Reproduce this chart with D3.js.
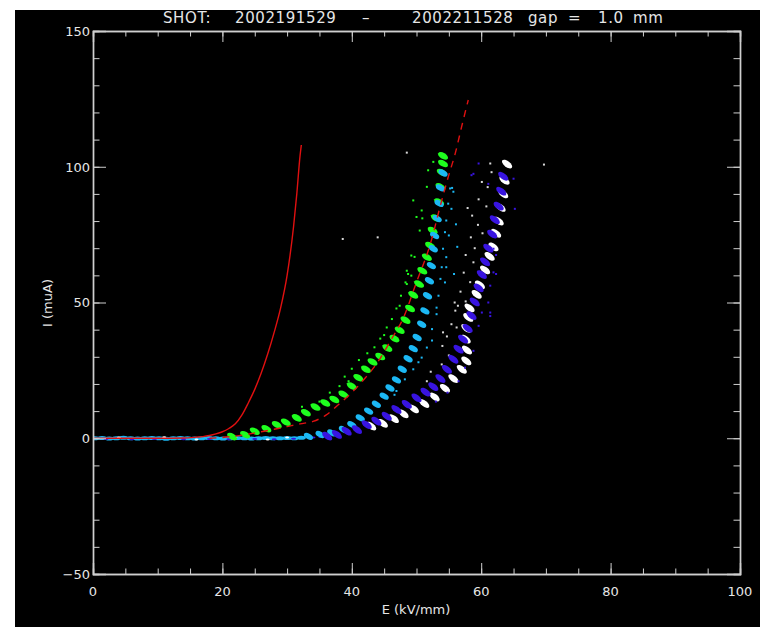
<!DOCTYPE html>
<html><head><meta charset="utf-8">
<script src="https://cdn.jsdelivr.net/npm/d3@7"></script>
<style>body{margin:0;background:#fff}svg{display:block}text{font-family:"DejaVu Sans",sans-serif;fill:#e6e6e6}</style>
</head><body><svg id="c" width="760" height="627"></svg>
<script>
// ---- data ----
const xTicks = [0, 20, 40, 60, 80, 100];
const yTicks = [-50, 0, 50, 100, 150];
const titleParts = ["SHOT:", "2002191529", "\u2013", "2002211528", "gap", "=", "1.0", "mm"];
const xLabel = "E (kV/mm)";
const yLabel = "I (muA)";

const redSolid = [[0,0],[10,0],[14,0.1],[16,0.4],[17,0.6],[18,1],[19,1.6],[20,2.4],[21,3.6],[22,5.3],[23,8.5],[24,13],[25,18],[26,24],[27,31],[28,39],[29,48],[30,60],[31,78],[31.5,90],[32,104],[32.2,108]];
const redDash = [[18,0],[20,0.3],[22,0.8],[24,1.5],[26,2.4],[28,3.3],[30,4.3],[32,5.3],[34,6.2],[36,8.5],[38,12.5],[40,16.8],[42,22],[44,28],[46,36],[48,44.5],[50,57.5],[52,70.5],[54,88.5],[55,97],[56,105],[57,115],[58,124.6]];

const greenBlobs = [[21.5,0.6],[23.5,1.3],[25,2.6],[26.8,3.5],[28.4,5],[29.8,5.9],[31.5,7.5],[32.9,9.4],[34.4,11.5],[35.9,13],[37.3,14.3],[38.7,16.2],[40,19.2],[41,22.3],[42.2,25.4],[43.2,28.1],[44.4,30.1],[45.5,33.2],[46.6,36.7],[47.4,39.8],[48.3,43.5],[49,47.8],[49.5,52.8],[50.4,56.8],[50.9,61.7],[51.6,66.7],[52.1,71],[52.5,76.5],[53,81.1],[53.5,87],[53.7,92.6],[53.9,97.9],[54.1,101.2],[54.1,104]];
const cyanBlobs = [[33.3,0.7],[35.1,1.4],[36.9,2],[38.7,3.2],[40,5],[41.3,7.5],[42.6,10],[43.8,12.5],[45,15.5],[45.9,18.5],[46.9,21.5],[47.8,25.4],[48.7,29.3],[49.5,33],[50.1,37.1],[50.8,42],[51.3,46.9],[51.7,52.5],[52,58],[52.3,63.6],[52.6,69.8],[52.8,74.7],[53.2,80.9],[53.5,86.5],[53.7,92.2],[54.1,97.7]];
const blueBlobs = [[36.2,0.8],[37.7,1.4],[39.2,2.6],[40.8,3.2],[42.3,5],[43.8,6.3],[45.4,8.1],[46.9,10.6],[48.5,12.5],[50,14.9],[51.4,17],[52.6,19],[53.7,22],[54.7,25.4],[55.7,29.1],[56.5,32.8],[57.2,36.5],[57.9,40.5],[58.5,45.2],[59,50.2],[59.6,55.4],[60.1,60.3],[60.6,65],[61.1,70],[61.7,75.2],[62.1,80.5],[62.7,85.5],[63.1,91],[63.4,96.5]];
const whiteBlobs = [[43,4.5],[44.8,5.5],[46.5,7.2],[48,9],[49.6,10.8],[51.2,12.8],[52.8,15.2],[54.4,18.4],[55.7,22],[57,25.4],[57.7,28.5],[57.8,32.5],[57.6,36.5],[57.7,40.5],[58,44.5],[58.2,48],[59.3,53],[59.8,56.5],[60.6,62],[61.3,67],[61.9,70.5],[62.3,75.5],[62.7,80],[63,85],[63.4,90],[63.6,95],[64,101]];

const cyanBase = [[0.3,0],[1.4,0.1],[2.5,-0.1],[3.6,0],[4.7,0.2],[5.8,0],[6.9,-0.1],[8,0],[9.1,0.1],[10.2,0],[11.3,-0.2],[12.4,0],[13.5,0.1],[14.6,0],[15.7,-0.1],[16.8,0],[17.9,0.1],[19,0],[20.1,-0.1],[21.2,0],[22.3,0.1],[23.4,0],[24.5,-0.1],[25.6,0],[26.7,0.1],[27.8,0],[28.9,0],[30,0.1],[31.1,0],[32.2,0.2]];
const blueBase = [[2,-0.3],[6,-0.4],[9.5,-0.3],[14,-0.4],[18,-0.3],[21,-0.4],[25,-0.3],[28,-0.4],[31,-0.2],[34,0.3],[35.2,0.5]];
const whiteBase = [[4,0.3],[11,0.4],[16,-0.5],[22,0.3],[27,-0.5],[30,0.3]];

const greenDots = [[32.3,11.6],[36.6,16.8],[38.1,19.2],[38.9,22.7],[40,25.6],[41.1,28.8],[42.4,31.3],[44.4,36.7],[45.4,40.8],[46.2,43.9],[46.9,47.8],[47.6,52.5],[48.5,56.8],[48.7,60.5],[47.4,48.8],[48.3,57.4],[49.2,59.9],[48.5,61.7],[49.2,67.3],[49.7,66.8],[50.5,76.5],[50,81.5],[50.9,81],[50.8,83.9],[49.5,87.6],[51.6,92.6],[51.8,98.7],[52.6,101.8],[35,13.5],[43.5,33.5],[39.5,21],[45,38]];
const cyanDots = [[46.6,16],[46.9,17.4],[48.2,21.7],[49.5,25.4],[50.3,28],[50.8,29.7],[51.6,33.4],[52.4,36],[52.4,40.2],[53.1,45.7],[53.1,48.1],[53.4,52.5],[54.4,57.4],[53.7,58.7],[53.9,63],[54.6,63],[54.6,66.7],[54.1,69.8],[55,74.7],[54.4,75.9],[56.1,78.8],[54.6,80.2],[55.4,84.5],[54.9,86.4],[55.7,90.8],[55.2,92],[55.5,92.2],[56.3,70.5],[55.8,60.5]];
const whiteDots = [[61.4,101.2],[61.6,98],[60.1,94.4],[61,92.5],[59.6,88],[60.8,85.4],[57.9,84.8],[58.6,82],[59.5,78.6],[60.2,75.5],[58.4,74],[59,70],[57.6,67.5],[58.8,64.8],[57.3,61],[58.3,57.5],[56.8,54],[57.6,50.4],[55.9,50],[56.4,48.8],[56,47],[55.4,42],[56.2,40.8],[54.1,39],[54.7,37.5],[54,34],[55,30.5],[53.9,27.2],[52.2,24.5],[51.6,21],[48.5,105.2],[38.6,73.4],[44,74],[69.7,100.8]];
const blueDots = [[59.6,101.2],[58.5,96.9],[58.8,97.4],[65,95.6],[61.1,93.7],[65.2,84.5],[61.9,69.8],[62.3,67.5],[61.9,61.1],[62.3,60.5],[61.4,56.2],[61.1,50],[61.4,46.3],[60.1,46.3],[61.4,45],[59.6,41.4],[58.8,32.2],[57.5,26],[56.5,21],[54.8,16.8],[53,13.5]];

// ---- chart ----
const svg = d3.select("#c");
const W = 760, H = 627;
svg.append("rect").attr("x", 15).attr("y", 10).attr("width", W - 15).attr("height", H - 10).attr("fill", "#000");
const L = 93, R = 740, T = 31, B = 574;
const x = d3.scaleLinear().domain([0, 100]).range([L, R]);
const y = d3.scaleLinear().domain([-50, 150]).range([B, T]);
const axCol = "#cfcfcf";

const plot = svg.append("g");
plot.append("clipPath").attr("id", "clip").append("rect").attr("x", L).attr("y", T).attr("width", R - L).attr("height", B - T);
const data = plot.append("g").attr("clip-path", "url(#clip)");

function blobs(arr, col, rx, ry, rot) {
  data.append("g").selectAll("ellipse").data(arr).join("ellipse")
    .attr("cx", 0).attr("cy", 0).attr("rx", rx).attr("ry", ry)
    .attr("transform", d => `translate(${x(d[0])},${y(d[1])}) rotate(${rot})`)
    .attr("fill", col);
}
function dots(arr, col) {
  data.append("g").selectAll("rect").data(arr).join("rect")
    .attr("x", d => x(d[0]) - 1).attr("y", d => y(d[1]) - 1)
    .attr("width", 2).attr("height", 2).attr("fill", col);
}
const GREEN = "#1eff1e", CYAN = "#1cb8f4", BLUE = "#3814e0", WHITE = "#ffffff";

blobs(cyanBase, CYAN, 4.5, 2, 0);
blobs(whiteBase, WHITE, 2, 1, 0);
blobs(blueBase, BLUE, 2.5, 1, 0);
dots(greenDots, GREEN);
blobs(greenBlobs, GREEN, 5.5, 3, 30);
dots(cyanDots, CYAN);
blobs(cyanBlobs, CYAN, 5, 2.8, 30);
dots(whiteDots, "#d8d8d8");
blobs(whiteBlobs, WHITE, 6, 3, 38);
dots(blueDots, BLUE);
blobs(blueBlobs, BLUE, 6, 3, 38);

const line = d3.line().x(d => x(d[0])).y(d => y(d[1])).curve(d3.curveMonotoneX);
data.append("path").datum(redSolid).attr("d", line).attr("fill", "none").attr("stroke", "#e01010").attr("stroke-width", 1.4);
data.append("path").datum(redDash).attr("d", line).attr("fill", "none").attr("stroke", "#e01010").attr("stroke-width", 1.4).attr("stroke-dasharray", "7,6");

// axes
const ax = svg.append("g");
const xMinor = d3.range(0, 101, 5);
const yMinor = d3.range(-50, 151, 10);
function tickG(g) { g.selectAll(".domain").attr("stroke", axCol); g.selectAll("line").attr("stroke", axCol); }
ax.append("g").attr("transform", `translate(0,${B})`).call(d3.axisBottom(x).tickValues(xMinor).tickSize(-5.5).tickFormat("")).call(tickG);
ax.append("g").attr("transform", `translate(0,${B})`).call(d3.axisBottom(x).tickValues(xTicks).tickSize(-11).tickFormat("")).call(tickG);
ax.append("g").attr("transform", `translate(0,${T})`).call(d3.axisTop(x).tickValues(xMinor).tickSize(-5.5).tickFormat("")).call(tickG);
ax.append("g").attr("transform", `translate(0,${T})`).call(d3.axisTop(x).tickValues(xTicks).tickSize(-11).tickFormat("")).call(tickG);
ax.append("g").attr("transform", `translate(${L},0)`).call(d3.axisLeft(y).tickValues(yMinor).tickSize(-6.5).tickFormat("")).call(tickG);
ax.append("g").attr("transform", `translate(${L},0)`).call(d3.axisLeft(y).tickValues(yTicks).tickSize(-13).tickFormat("")).call(tickG);
ax.append("g").attr("transform", `translate(${R},0)`).call(d3.axisRight(y).tickValues(yMinor).tickSize(-6.5).tickFormat("")).call(tickG);
ax.append("g").attr("transform", `translate(${R},0)`).call(d3.axisRight(y).tickValues(yTicks).tickSize(-13).tickFormat("")).call(tickG);
ax.selectAll(".domain").attr("stroke-width", 1.4);

// labels
svg.append("g").selectAll("text").data(xTicks).join("text")
  .attr("x", d => x(d)).attr("y", 596).attr("text-anchor", "middle").attr("font-size", 13).text(d => d);
svg.append("g").selectAll("text").data(yTicks).join("text")
  .attr("x", 90).attr("y", d => y(d)).attr("dy", "0.38em").attr("text-anchor", "end").attr("font-size", 13).text(d => d === -50 ? "\u221250" : d);
svg.append("text").attr("x", 416).attr("y", 614).attr("text-anchor", "middle").attr("font-size", 13).text(xLabel);
svg.append("text").attr("transform", "translate(52,303) rotate(-90)").attr("text-anchor", "middle").attr("font-size", 13).text(yLabel);

const titleX = [163, 235, 362, 412, 528, 568, 598, 633];
svg.append("g").selectAll("text").data(titleParts).join("text")
  .attr("x", (d, i) => titleX[i]).attr("y", 23).attr("font-size", 15).attr("letter-spacing", 0.6).text(d => d);
</script></body></html>
